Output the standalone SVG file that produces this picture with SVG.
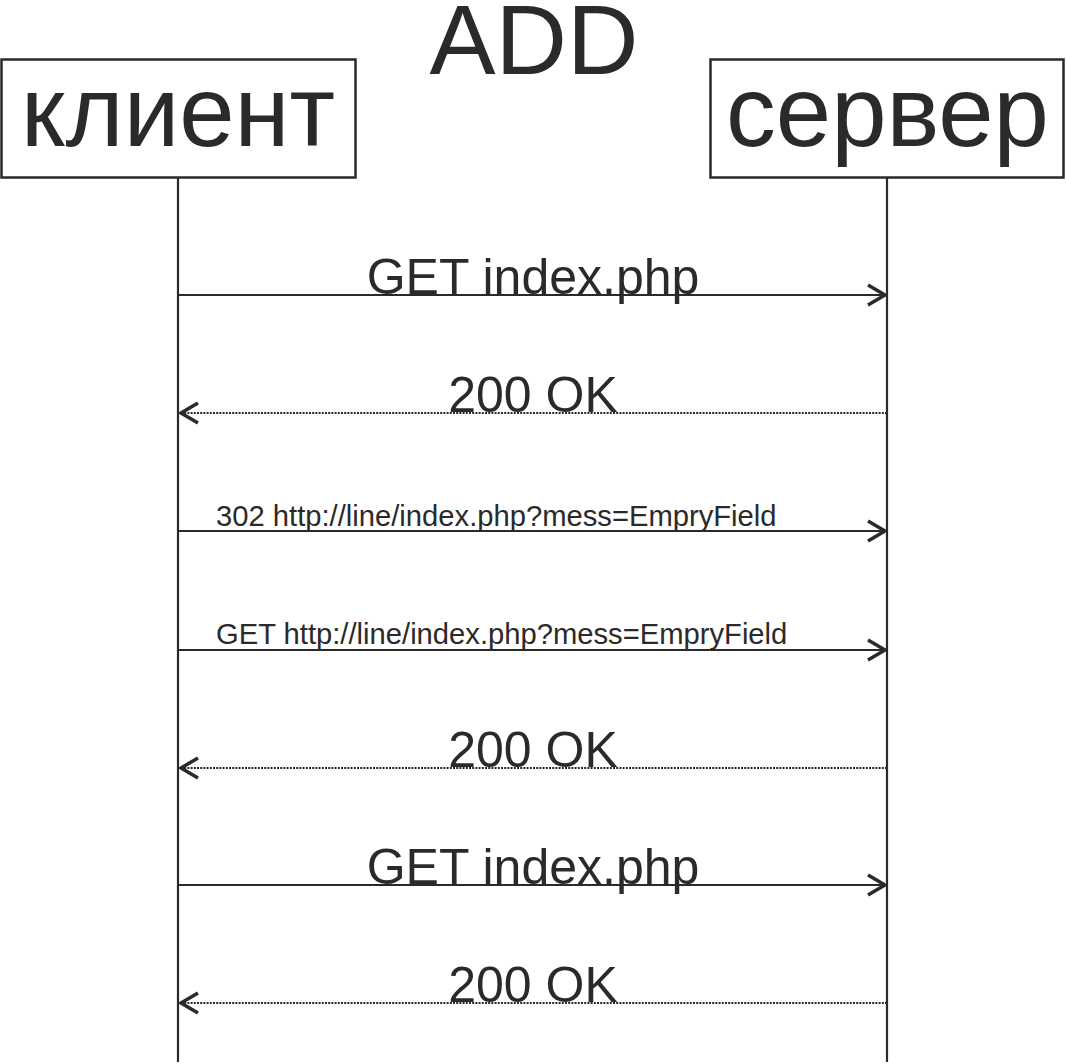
<svg xmlns="http://www.w3.org/2000/svg" width="1066" height="1064" viewBox="0 0 1066 1064">
<defs>
<style>
text{font-family:"Liberation Sans",Arial,sans-serif;fill:#2b2a29}
.title{font-size:99px;text-anchor:middle}
.big{font-size:99.5px;text-anchor:middle}
.msg{font-size:50px;text-anchor:middle}
.small{font-size:29.2px}
.box{fill:#fff;stroke:#2b2a29;stroke-width:2.5}
.life{stroke:#2b2a29;stroke-width:2.2;fill:none}
.solid{stroke:#2b2a29;stroke-width:2.2;fill:none}
.dot{stroke:#2b2a29;stroke-width:2;stroke-dasharray:2 1.2;fill:none}
.head{stroke:#2b2a29;stroke-width:3.5;fill:none}
</style>
</defs>
<rect width="1066" height="1064" fill="#fff"/>
<text class="title" x="534" y="74">ADD</text>
<g id="client">
<line class="life" x1="178" y1="177" x2="178" y2="1062"/>
<rect class="box" x="1.5" y="59.5" width="354" height="118"/>
<text class="big" x="178" y="146">клиент</text>
</g>
<g id="server">
<line class="life" x1="887" y1="177" x2="887" y2="1062"/>
<rect class="box" x="710.5" y="59.5" width="353" height="118"/>
<text class="big" x="887.5" y="146">сервер</text>
</g>
<g id="connectors">
<line class="solid" x1="178" y1="295" x2="885" y2="295"/>
<polyline class="head" points="868,285 885,295 868,305"/>
<text class="msg" x="533" y="294">GET index.php</text>

<line class="dot" x1="887" y1="413" x2="181" y2="413"/>
<polyline class="head" points="198,403 181,413 198,423"/>
<text class="msg" x="533" y="412">200 OK</text>

<line class="solid" x1="178" y1="531" x2="885" y2="531"/>
<polyline class="head" points="868,521 885,531 868,541"/>
<text class="small" x="216" y="526">302 http://line/index.php?mess=EmpryField</text>

<line class="solid" x1="178" y1="650" x2="885" y2="650"/>
<polyline class="head" points="868,640 885,650 868,660"/>
<text class="small" x="216" y="644">GET http://line/index.php?mess=EmpryField</text>

<line class="dot" x1="887" y1="768" x2="181" y2="768"/>
<polyline class="head" points="198,758 181,768 198,778"/>
<text class="msg" x="533" y="767">200 OK</text>

<line class="solid" x1="178" y1="885" x2="885" y2="885"/>
<polyline class="head" points="868,875 885,885 868,895"/>
<text class="msg" x="533" y="884">GET index.php</text>

<line class="dot" x1="887" y1="1003" x2="181" y2="1003"/>
<polyline class="head" points="198,993 181,1003 198,1013"/>
<text class="msg" x="533" y="1002">200 OK</text>
</g>
</svg>
